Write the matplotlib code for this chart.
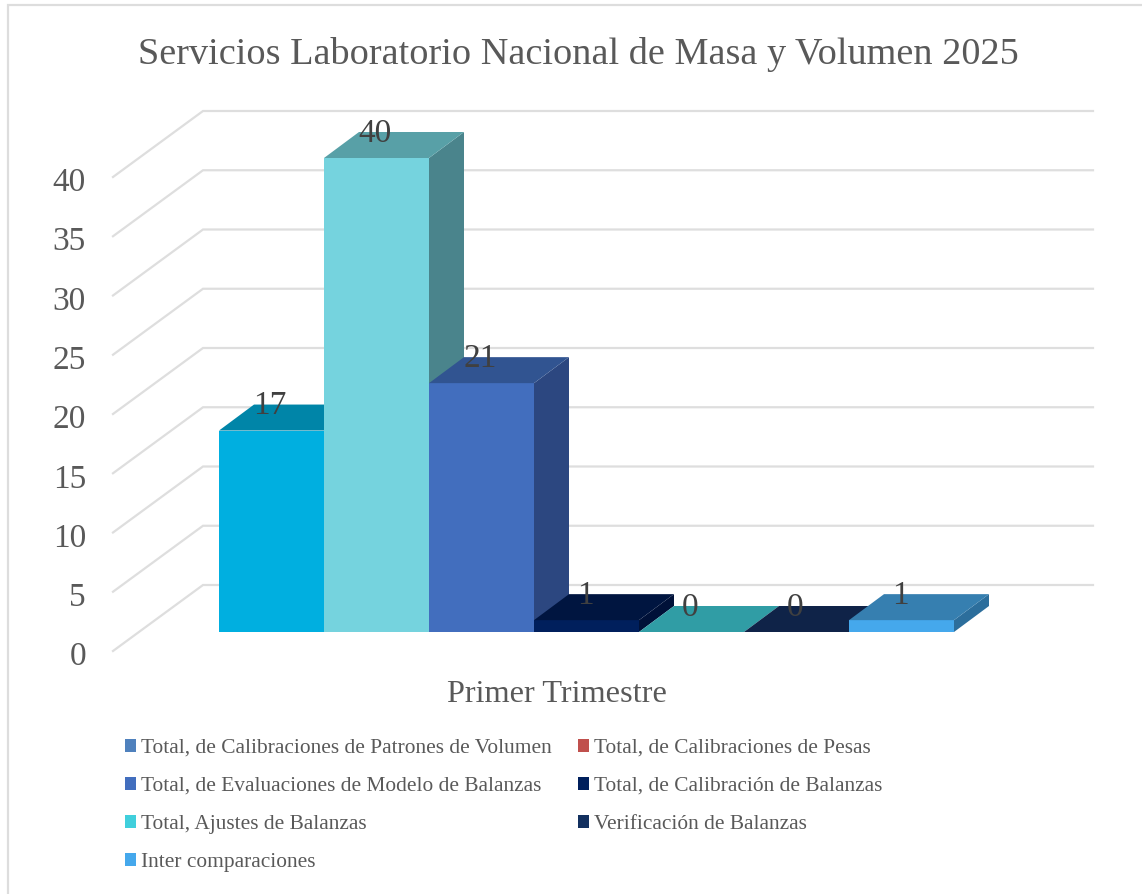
import matplotlib
matplotlib.use("Agg")
import matplotlib.pyplot as plt
from matplotlib.patches import Polygon, Patch

plt.rcParams['font.family'] = ['Liberation Serif', 'DejaVu Sans']

title = "Servicios Laboratorio Nacional de Masa y Volumen 2025"
category = "Primer Trimestre"
values = [17, 40, 21, 1, 0, 0, 1]
ticks = [0, 5, 10, 15, 20, 25, 30, 35, 40]
front_cols = ['#00AFE0', '#75D3DE', '#426EBE', '#001F5C', '#36A6AE', '#12274F', '#45A8EC']
top_cols = ['#0085A8', '#58A0A7', '#315491', '#001540', '#309DA5', '#0F2348', '#367FB0']
side_cols = ['#00708E', '#4A848C', '#2C4780', '#001138', '#2A8A91', '#0C1D3D', '#2C6E9C']
legend_labels = ["Total, de Calibraciones de Patrones de Volumen",
                 "Total, de Evaluaciones de Modelo de Balanzas",
                 "Total, Ajustes de Balanzas",
                 "Inter comparaciones",
                 "Total, de Calibraciones de Pesas",
                 "Total, de Calibración de Balanzas",
                 "Verificación de Balanzas"]
legend_cols = ['#4F81BD', '#426EBE', '#40CFDC', '#45A8EC', '#C0504D', '#001F5C', '#12305F']

W, H = 1142, 894
# scale: one bar = 105 px wide, one value unit = 11.85 px
PX_X, PX_Y = 105.0, 11.85
X0, Y0 = 219, 632   # pixel of bar 0 / value 0

fig = plt.figure(figsize=(W / 100, H / 100), dpi=100)
ax = fig.add_axes([0, 0, 1, 1])
ax.set_xlim(-X0 / PX_X, (W - X0) / PX_X)
ax.set_ylim(-(H - Y0) / PX_Y, Y0 / PX_Y)
ax.axis('off')

# depth of bars and of the walls, in data units
bar_dx, bar_dy = 35 / PX_X, 26 / PX_Y
wall_x0, wall_x1, wall_x2 = -106 / PX_X, -16 / PX_X, 874 / PX_X
wall_y0, wall_y1 = -19 / PX_Y, 47 / PX_Y

# gridlines on the wall
for t in ticks:
    ax.plot([wall_x0, wall_x1, wall_x2], [t + wall_y0, t + wall_y1, t + wall_y1],
            color='#DEDEDE', lw=1.6, zorder=1, solid_joinstyle='miter')
    ax.text(wall_x0 - 27 / PX_X, t + wall_y0 - 6 / PX_Y, str(t), ha='right', va='center',
            fontsize=24, color='#595959')

# bars left to right so the next one covers the side of the previous one
for i, v in enumerate(values):
    l, r = i, i + 1
    if v > 0:
        ax.add_patch(Polygon([(r, 0), (r + bar_dx, bar_dy), (r + bar_dx, v + bar_dy), (r, v)],
                             facecolor=side_cols[i], edgecolor='none', zorder=2 + i))
        ax.add_patch(Polygon([(l, 0), (r, 0), (r, v), (l, v)],
                             facecolor=front_cols[i], edgecolor='none', zorder=2 + i))
    ax.add_patch(Polygon([(l, v), (r, v), (r + bar_dx, v + bar_dy), (l + bar_dx, v + bar_dy)],
                         facecolor=top_cols[i], edgecolor='none', zorder=2 + i))

for i, v in enumerate(values):
    ax.text(i + 0.5 - 1.5 / PX_X, v + bar_dy - 1.5 / PX_Y, str(v), ha='center', va='center',
            fontsize=24, color='#404040', zorder=20)

fig.text(578 / W, 1 - 54 / H, title, ha='center', va='center', fontsize=27.5, color='#595959')
ax.text(557 / PX_X - X0 / PX_X, -(694 - Y0) / PX_Y, category, ha='center', va='center',
        fontsize=23.3, color='#595959')

handles = [Patch(facecolor=c, edgecolor='none') for c in legend_cols]
fig.legend(handles, legend_labels, ncols=2, loc='upper left',
           bbox_to_anchor=(125 / W, 1 - 739 / H), frameon=False, fontsize=15.4,
           labelcolor='#595959', handlelength=0.51, handleheight=0.51, handletextpad=0.23,
           labelspacing=0.89, columnspacing=1.25, borderpad=0, borderaxespad=0)

# outer frame, only left and top are inside the picture
fig.add_artist(plt.Line2D([7.5 / W, 7.5 / W, 1], [0, 1 - 5 / H, 1 - 5 / H], transform=fig.transFigure,
                          color='#DDDDDD', lw=1.6, solid_joinstyle='miter'))

fig.savefig("out.png", dpi=100)
